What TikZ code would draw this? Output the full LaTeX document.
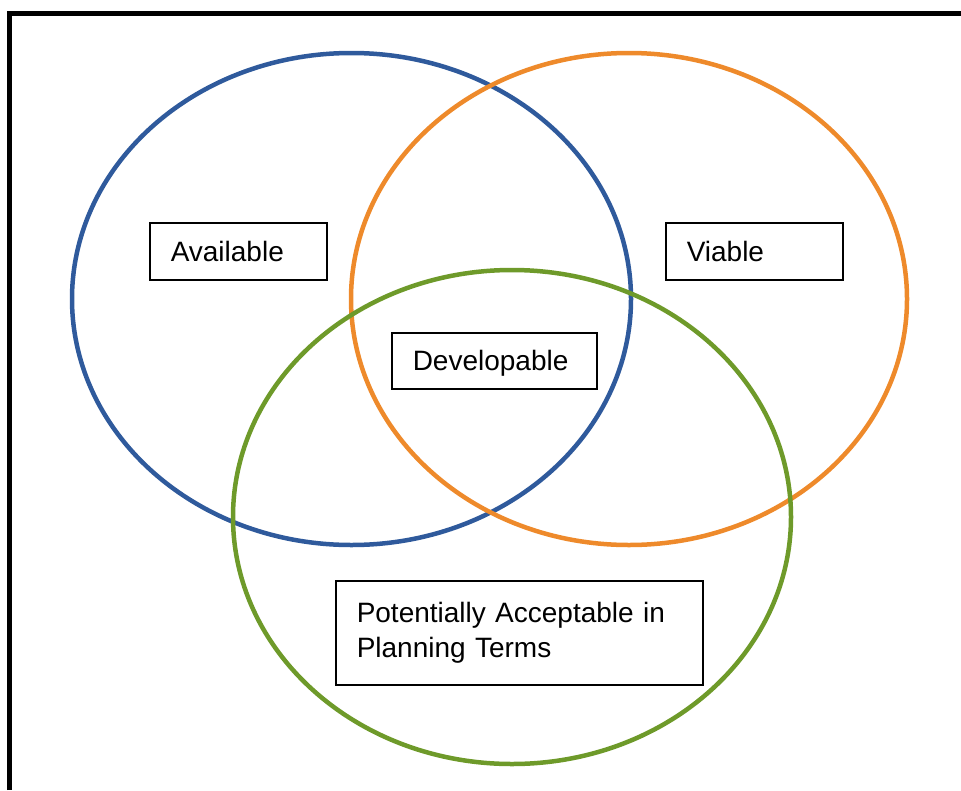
\documentclass[tikz,border=0pt]{standalone}
\usepackage{fontspec}
\setmainfont{Liberation Sans}
\definecolor{setblue}{HTML}{2F5A9C}
\definecolor{setorange}{HTML}{EE8A2B}
\definecolor{setgreen}{HTML}{6E9A2A}
\begin{document}
\begin{tikzpicture}[x=1pt,y=-1pt,
  setring/.style={line width=4.5pt},
  labelbox/.style={draw=black, line width=1.5pt, anchor=north west, fill=white,
    inner xsep=21pt, inner ysep=0pt, align=left,
    font=\fontsize{28}{35}\selectfont},
  smallbox/.style={labelbox, text width=135pt, minimum height=57pt},
]
\useasboundingbox (0,0) rectangle (961,790);
% outer frame, open towards the right and bottom edges
\draw[line width=5pt] (9.5,790) -- (9.5,13.5) -- (961,13.5);
% the three sets
\draw[setring, setblue]   (351.5,299) ellipse [x radius=279.5, y radius=246];
\draw[setring, setorange] (629,299)   ellipse [x radius=278,   y radius=246];
\draw[setring, setgreen]  (512,517)   ellipse [x radius=279,   y radius=247];
% labels
\node[smallbox] (available) at (149,222) {Available};
\node[smallbox] (viable) at (665,222) {Viable};
\node[labelbox, text width=163pt, minimum height=56pt, text depth=0pt] (developable) at (391,332) {Developable};
\node[labelbox, text width=325pt, minimum height=104pt] (planning) at (335,580)
  {Potentially Acceptable in\\Planning Terms};
\end{tikzpicture}
\end{document}
